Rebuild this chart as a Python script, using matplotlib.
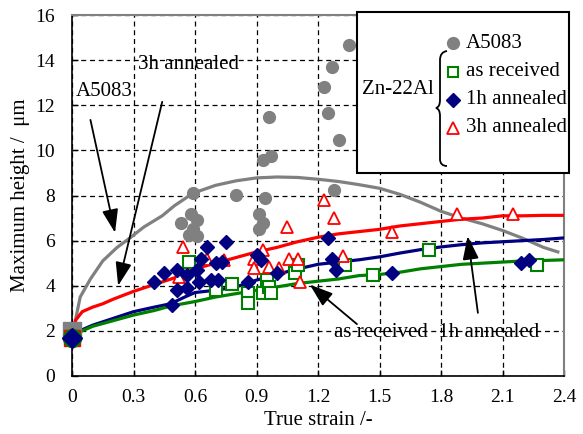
import matplotlib
matplotlib.use("Agg")
import matplotlib.pyplot as plt
from matplotlib.lines import Line2D
from matplotlib.patches import Rectangle, PathPatch
from matplotlib.path import Path

plt.rcParams['font.family'] = ['Liberation Serif', 'DejaVu Serif']

# ---- data ----
x_ticks = [0, 0.3, 0.6, 0.9, 1.2, 1.5, 1.8, 2.1, 2.4]
x_tick_labels = ["0", "0.3", "0.6", "0.9", "1.2", "1.5", "1.8", "2.1", "2.4"]
y_ticks = [0, 2, 4, 6, 8, 10, 12, 14, 16]

# fitted curves
a5083_line_x = [0, 0.015, 0.04, 0.09, 0.15, 0.22, 0.28, 0.35, 0.44, 0.5, 0.59, 0.7, 0.8, 0.9, 1.0,
                1.1, 1.2, 1.3, 1.4, 1.5, 1.6, 1.7, 1.8, 1.9, 2.0, 2.1, 2.2, 2.3, 2.37]
a5083_line_y = [2.0, 2.4, 3.5, 4.3, 5.1, 5.7, 6.1, 6.6, 7.1, 7.55, 8.1, 8.45, 8.65, 8.78, 8.82,
                8.8, 8.72, 8.62, 8.48, 8.32, 8.05, 7.7, 7.3, 7.0, 6.75, 6.45, 6.1, 5.7, 5.5]

h3_line_x = [0, 0.02, 0.05, 0.1, 0.15, 0.2, 0.3, 0.4, 0.5, 0.6, 0.7, 0.8, 0.9, 1.0, 1.1, 1.2, 1.3,
             1.4, 1.5, 1.6, 1.7, 1.8, 1.9, 2.0, 2.1, 2.2, 2.3, 2.4]
h3_line_y = [2.0, 2.5, 2.85, 3.05, 3.2, 3.4, 3.75, 4.05, 4.35, 4.75, 5.0, 5.25, 5.5, 5.7, 5.95, 6.15,
             6.3, 6.4, 6.5, 6.65, 6.75, 6.85, 6.95, 7.0, 7.1, 7.1, 7.12, 7.12]

h1_line_x = [0, 0.05, 0.1, 0.2, 0.3, 0.4, 0.48, 0.55, 0.6, 0.7, 0.8, 0.9, 1.0, 1.08, 1.2, 1.3, 1.4,
             1.5, 1.6, 1.7, 1.8, 1.9, 2.0, 2.1, 2.2, 2.3, 2.4]
h1_line_y = [1.8, 2.05, 2.25, 2.55, 2.85, 3.05, 3.2, 3.5, 3.7, 3.8, 3.95, 4.25, 4.5, 4.7, 4.95, 5.05,
             5.15, 5.28, 5.45, 5.6, 5.72, 5.82, 5.9, 5.95, 6.0, 6.05, 6.12]

ar_line_x = [0, 0.05, 0.1, 0.2, 0.3, 0.4, 0.48, 0.6, 0.7, 0.8, 0.9, 1.0, 1.1, 1.2, 1.3, 1.4, 1.5,
             1.6, 1.7, 1.8, 1.9, 2.0, 2.1, 2.2, 2.3, 2.4]
ar_line_y = [1.8, 2.0, 2.2, 2.45, 2.7, 2.9, 3.1, 3.3, 3.5, 3.65, 3.8, 3.95, 4.1, 4.2, 4.3, 4.45, 4.5,
             4.6, 4.75, 4.85, 4.95, 5.0, 5.05, 5.1, 5.12, 5.15]

# measured points
a5083_x = [1.35, 1.27, 1.23, 1.25, 1.30, 0.96, 0.97, 0.93, 0.80, 0.94, 1.28, 0.59, 0.58, 0.53,
           0.61, 0.59, 0.61, 0.57, 0.91, 0.93, 0.91]
a5083_y = [14.67, 13.7, 12.8, 11.66, 10.46, 11.5, 9.75, 9.57, 8.02, 7.9, 8.25, 8.1, 7.2, 6.8,
           6.9, 6.5, 6.2, 6.25, 7.2, 6.8, 6.5]

ar_x = [0.57, 0.70, 0.78, 0.86, 0.86, 0.93, 0.95, 0.96, 0.97, 1.09, 1.10, 1.33, 1.74, 1.47, 2.27]
ar_y = [5.05, 3.8, 4.08, 3.7, 3.25, 3.7, 4.25, 3.95, 3.7, 4.55, 4.9, 4.9, 5.6, 4.47, 4.9]

h1_x = [0.40, 0.45, 0.51, 0.51, 0.56, 0.56, 0.49, 0.61, 0.62, 0.63, 0.66, 0.68, 0.70, 0.71, 0.73,
        0.75, 0.86, 0.90, 0.92, 1.00, 1.25, 1.27, 1.29, 1.56, 2.19, 2.23]
h1_y = [4.17, 4.55, 4.7, 3.8, 3.9, 4.47, 3.15, 4.7, 4.17, 5.2, 5.7, 4.25, 5.0, 4.25, 5.05,
        5.95, 4.17, 5.37, 5.15, 4.55, 6.1, 5.2, 4.7, 4.55, 5.0, 5.15]

h3_x = [0.54, 0.52, 0.66, 0.74, 0.89, 0.93, 0.89, 0.96, 1.01, 1.05, 1.06, 1.10, 1.11, 1.23, 1.28,
        1.32, 1.56, 1.88, 2.15]
h3_y = [5.7, 4.4, 5.2, 5.15, 5.2, 5.6, 4.8, 4.85, 4.8, 6.6, 5.2, 5.2, 4.17, 7.8, 7.0,
        5.3, 6.4, 7.2, 7.2]

origin_y = 1.7
origin_gray_y = 2.0

GRAY = '#808080'
RED = '#FF0000'
NAVY = '#000080'
GREEN = '#008000'

FS = 15
TFS = 14

fig = plt.figure(figsize=(5.83, 4.34), dpi=100)
ax = fig.add_axes([72/583, 1-376/434, (564-72)/583, (376-15)/434])
ax.set_xlim(0, 2.4)
ax.set_ylim(0, 16)

ax.set_xticks(x_ticks)
ax.set_xticklabels(x_tick_labels)
ax.set_yticks(y_ticks)
ax.tick_params(direction='in', length=4, width=1, labelsize=TFS, colors='black')
ax.tick_params(axis='y', pad=12)
ax.tick_params(axis='x', pad=9)
ax.grid(True, color='black', linestyle=(0, (4, 3)), linewidth=0.9)
ax.set_axisbelow(True)
for s in ['left', 'bottom']:
    ax.spines[s].set_color('black')
    ax.spines[s].set_linewidth(1.2)
for s in ['top', 'right']:
    ax.spines[s].set_color(GRAY)
    ax.spines[s].set_linewidth(1.5)

ax.set_xlabel("True strain /-", fontsize=FS, labelpad=4)
ax.set_ylabel("Maximum height /  \u03bcm", fontsize=FS, labelpad=4)

# curves
ax.plot(a5083_line_x, a5083_line_y, color=GRAY, lw=2.3, zorder=3)
ax.plot(h3_line_x, h3_line_y, color=RED, lw=2.3, zorder=3)
ax.plot(h1_line_x, h1_line_y, color=NAVY, lw=2.3, zorder=3)
ax.plot(ar_line_x, ar_line_y, color=GREEN, lw=2.3, zorder=3)

# origin markers
ax.plot([0], [origin_gray_y], marker='s', ms=13, color=GRAY, mec=GRAY, ls='none', zorder=4, clip_on=False)
ax.plot([0], [origin_y], marker='s', ms=11, color=RED, ls='none', zorder=4, clip_on=False)
ax.plot([0], [origin_y], marker='o', ms=13, color=GREEN, ls='none', zorder=4, clip_on=False)
ax.plot([0], [origin_y], marker='D', ms=10, color=NAVY, ls='none', zorder=5, clip_on=False)

# scatter points
ax.plot(a5083_x, a5083_y, marker='o', ms=8.5, color=GRAY, mec=GRAY, ls='none', zorder=4)
ax.plot(ar_x, ar_y, marker='s', ms=8, mfc='white', mec=GREEN, mew=1.5, ls='none', zorder=4)
ax.plot(h3_x, h3_y, marker='^', ms=9, mfc='white', mec=RED, mew=1.3, ls='none', zorder=4)
ax.plot(h1_x, h1_y, marker='D', ms=7.5, color=NAVY, mec=NAVY, ls='none', zorder=5)

# annotations
ax.text(0.02, 12.6, "A5083", fontsize=FS, ha='left', va='center')
ax.text(0.32, 13.8, "3h annealed", fontsize=FS, ha='left', va='center')
ax.text(1.28, 1.95, "as received  1h annealed", fontsize=FS, ha='left', va='center', zorder=6)

arrow_kw = dict(arrowstyle='-|>,head_length=1.3,head_width=0.45', mutation_scale=11,
                color='black', lw=1.3, shrinkA=0, shrinkB=0)
ax.annotate("", xy=(0.21, 6.35), xytext=(0.09, 11.35), arrowprops=arrow_kw, zorder=7)
ax.annotate("", xy=(0.225, 4.0), xytext=(0.44, 12.15), arrowprops=arrow_kw, zorder=7)
ax.annotate("", xy=(1.16, 4.05), xytext=(1.39, 2.3), arrowprops=arrow_kw, zorder=7)
ax.annotate("", xy=(1.93, 6.2), xytext=(1.98, 2.8), arrowprops=arrow_kw, zorder=7)

# manual legend box (figure pixel coords -> fraction)
W, H = 583.0, 434.0
def fx(px):
    return px / W
def fy(py):
    return 1 - py / H

box = Rectangle((fx(357), fy(173)), fx(569) - fx(357), fy(12) - fy(173), transform=fig.transFigure,
                facecolor='white', edgecolor='black', lw=1.5, zorder=10)
fig.add_artist(box)

leg_items = [
    ("A5083", dict(marker='o', ms=8.5, color=GRAY, mec=GRAY), 43),
    ("as received", dict(marker='s', ms=7.5, mfc='white', mec=GREEN, mew=1.5), 72),
    ("1h annealed", dict(marker='D', ms=7, color=NAVY, mec=NAVY), 100),
    ("3h annealed", dict(marker='^', ms=8.5, mfc='white', mec=RED, mew=1.3), 128),
]
for label, kw, py in leg_items:
    fig.add_artist(Line2D([fx(453)], [fy(py)], transform=fig.transFigure, ls='none', zorder=11, **kw))
    fig.text(fx(466), fy(py), label, fontsize=FS, ha='left', va='center', zorder=11)

fig.text(fx(362), fy(90), "Zn-22Al", fontsize=FS, ha='left', va='center', zorder=11)

# curly brace
pts_px = [(447, 51), (440, 52), (440, 60), (440, 100), (440, 107), (436, 108),
          (440, 109), (440, 116), (440, 159), (440, 166), (447, 166)]
codes = [Path.MOVETO, Path.CURVE3, Path.CURVE3, Path.LINETO, Path.CURVE3, Path.CURVE3,
         Path.CURVE3, Path.CURVE3, Path.LINETO, Path.CURVE3, Path.CURVE3]
brace = Path([(fx(a), fy(b)) for a, b in pts_px], codes)
fig.add_artist(PathPatch(brace, transform=fig.transFigure, facecolor='none', edgecolor='black',
                         lw=1.3, zorder=11))

fig.savefig("out.png", dpi=100)
